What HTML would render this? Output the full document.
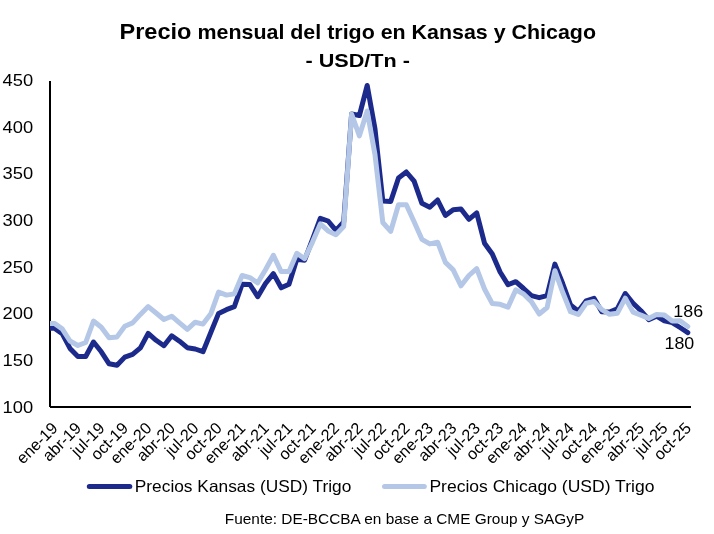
<!DOCTYPE html>
<html><head><meta charset="utf-8"><title>Precio mensual del trigo</title>
<style>
html,body{margin:0;padding:0;background:#fff;}
body{width:714px;height:534px;overflow:hidden;}
svg{display:block;will-change:transform;font-family:"Liberation Sans",Arial,sans-serif;}
</style></head><body>
<svg width="714" height="534" viewBox="0 0 714 534">
<defs><clipPath id="pc"><rect x="50" y="0" width="664" height="534"/></clipPath></defs>
<rect width="714" height="534" fill="#fff"/>
<text x="119.5" y="39" font-weight="bold" font-size="21.4" fill="#000" textLength="72" lengthAdjust="spacingAndGlyphs">Precio</text>
<text x="197.5" y="39" font-weight="bold" font-size="19.9" fill="#000" textLength="398.5" lengthAdjust="spacingAndGlyphs">mensual del trigo en Kansas y Chicago</text>
<text x="305.5" y="67" font-weight="bold" font-size="19" fill="#000" textLength="104.5" lengthAdjust="spacingAndGlyphs">- USD/Tn -</text>
<g font-size="16.8" fill="#000">
<text x="33.2" y="412.8" text-anchor="end" textLength="30.6" lengthAdjust="spacingAndGlyphs">100</text>
<text x="33.2" y="366.1" text-anchor="end" textLength="30.6" lengthAdjust="spacingAndGlyphs">150</text>
<text x="33.2" y="319.4" text-anchor="end" textLength="30.6" lengthAdjust="spacingAndGlyphs">200</text>
<text x="33.2" y="272.7" text-anchor="end" textLength="30.6" lengthAdjust="spacingAndGlyphs">250</text>
<text x="33.2" y="226.0" text-anchor="end" textLength="30.6" lengthAdjust="spacingAndGlyphs">300</text>
<text x="33.2" y="179.3" text-anchor="end" textLength="30.6" lengthAdjust="spacingAndGlyphs">350</text>
<text x="33.2" y="132.6" text-anchor="end" textLength="30.6" lengthAdjust="spacingAndGlyphs">400</text>
<text x="33.2" y="85.9" text-anchor="end" textLength="30.6" lengthAdjust="spacingAndGlyphs">450</text>
</g>
<g font-size="16.2" fill="#000">
<text transform="translate(58.7,429.2) rotate(-45)" text-anchor="end">ene-19</text>
<text transform="translate(82.2,429.2) rotate(-45)" text-anchor="end">abr-19</text>
<text transform="translate(105.6,429.2) rotate(-45)" text-anchor="end">jul-19</text>
<text transform="translate(129.1,429.2) rotate(-45)" text-anchor="end">oct-19</text>
<text transform="translate(152.5,429.2) rotate(-45)" text-anchor="end">ene-20</text>
<text transform="translate(176.0,429.2) rotate(-45)" text-anchor="end">abr-20</text>
<text transform="translate(199.5,429.2) rotate(-45)" text-anchor="end">jul-20</text>
<text transform="translate(222.9,429.2) rotate(-45)" text-anchor="end">oct-20</text>
<text transform="translate(246.4,429.2) rotate(-45)" text-anchor="end">ene-21</text>
<text transform="translate(269.8,429.2) rotate(-45)" text-anchor="end">abr-21</text>
<text transform="translate(293.3,429.2) rotate(-45)" text-anchor="end">jul-21</text>
<text transform="translate(316.8,429.2) rotate(-45)" text-anchor="end">oct-21</text>
<text transform="translate(340.2,429.2) rotate(-45)" text-anchor="end">ene-22</text>
<text transform="translate(363.7,429.2) rotate(-45)" text-anchor="end">abr-22</text>
<text transform="translate(387.1,429.2) rotate(-45)" text-anchor="end">jul-22</text>
<text transform="translate(410.6,429.2) rotate(-45)" text-anchor="end">oct-22</text>
<text transform="translate(434.1,429.2) rotate(-45)" text-anchor="end">ene-23</text>
<text transform="translate(457.5,429.2) rotate(-45)" text-anchor="end">abr-23</text>
<text transform="translate(481.0,429.2) rotate(-45)" text-anchor="end">jul-23</text>
<text transform="translate(504.4,429.2) rotate(-45)" text-anchor="end">oct-23</text>
<text transform="translate(527.9,429.2) rotate(-45)" text-anchor="end">ene-24</text>
<text transform="translate(551.4,429.2) rotate(-45)" text-anchor="end">abr-24</text>
<text transform="translate(574.8,429.2) rotate(-45)" text-anchor="end">jul-24</text>
<text transform="translate(598.3,429.2) rotate(-45)" text-anchor="end">oct-24</text>
<text transform="translate(621.7,429.2) rotate(-45)" text-anchor="end">ene-25</text>
<text transform="translate(645.2,429.2) rotate(-45)" text-anchor="end">abr-25</text>
<text transform="translate(668.7,429.2) rotate(-45)" text-anchor="end">jul-25</text>
<text transform="translate(692.1,429.2) rotate(-45)" text-anchor="end">oct-25</text>
</g>
<rect x="49" y="81" width="2" height="326" fill="#000"/>
<rect x="50" y="406" width="641" height="2" fill="#000"/>
<polyline points="50.2,328.3 54.4,328.3 62.2,333.7 70.0,348.4 77.9,356.5 85.7,356.5 93.5,342.0 101.3,351.8 109.1,363.8 117.0,365.3 124.8,357.1 132.6,354.4 140.4,347.9 148.2,333.4 156.1,340.3 163.9,345.7 171.7,335.8 179.5,341.2 187.3,347.7 195.2,349.0 203.0,351.7 210.8,332.5 218.6,313.4 226.4,309.7 234.3,306.7 242.1,284.3 249.9,284.5 257.7,296.7 265.5,283.5 273.4,273.6 281.2,287.8 289.0,284.2 296.8,259.3 304.6,260.2 312.5,239.3 320.3,218.3 328.1,221.0 335.9,230.4 343.7,222.0 351.6,114.0 359.4,115.5 367.2,85.5 375.0,129.0 382.8,201.0 390.7,201.5 398.5,178.0 406.3,172.0 414.1,181.2 421.9,203.3 429.8,207.2 437.6,200.0 445.4,215.5 453.2,209.7 461.0,209.0 468.9,219.3 476.7,212.8 484.5,243.2 492.3,254.0 500.1,272.0 508.0,284.7 515.8,281.7 523.6,288.5 531.4,295.7 539.2,297.7 547.1,295.7 554.9,264.1 562.7,283.5 570.5,304.9 578.3,311.2 586.2,300.8 594.0,298.3 601.8,311.8 609.6,312.1 617.4,308.7 625.3,293.5 633.1,303.2 640.9,310.7 648.7,319.6 656.5,316.2 664.4,320.9 672.2,322.6 680.0,327.5 687.8,332.6" fill="none" stroke="#1C2A8C" stroke-width="5" stroke-linejoin="round" stroke-linecap="round" clip-path="url(#pc)"/>
<polyline points="50.2,323.4 54.4,323.4 62.2,328.9 70.0,341.0 77.9,345.5 85.7,342.5 93.5,321.0 101.3,327.2 109.1,337.7 117.0,336.9 124.8,326.2 132.6,322.9 140.4,314.4 148.2,306.6 156.1,313.0 163.9,319.5 171.7,316.2 179.5,322.8 187.3,329.4 195.2,322.2 203.0,324.1 210.8,313.8 218.6,292.0 226.4,295.1 234.3,293.9 242.1,275.5 249.9,277.7 257.7,282.8 265.5,269.7 273.4,255.3 281.2,271.6 289.0,271.5 296.8,253.3 304.6,258.7 312.5,242.1 320.3,223.9 328.1,230.9 335.9,234.7 343.7,226.5 351.6,114.0 359.4,135.8 367.2,111.0 375.0,154.7 382.8,222.5 390.7,231.3 398.5,204.8 406.3,204.8 414.1,221.8 421.9,239.3 429.8,243.9 437.6,242.2 445.4,262.4 453.2,269.9 461.0,285.8 468.9,275.5 476.7,268.6 484.5,289.0 492.3,303.6 500.1,304.3 508.0,307.1 515.8,289.9 523.6,294.0 531.4,301.6 539.2,314.0 547.1,307.5 554.9,270.7 562.7,292.3 570.5,311.7 578.3,314.5 586.2,303.3 594.0,301.5 601.8,309.6 609.6,314.3 617.4,313.2 625.3,298.1 633.1,312.1 640.9,315.1 648.7,318.4 656.5,314.5 664.4,315.1 672.2,320.9 680.0,320.7 687.8,326.5" fill="none" stroke="#B4C7E7" stroke-width="5" stroke-linejoin="round" stroke-linecap="round" clip-path="url(#pc)"/>
<text x="703.1" y="316.7" text-anchor="end" font-size="16.5" fill="#000" textLength="29.8" lengthAdjust="spacingAndGlyphs">186</text>
<text x="694.3" y="348.6" text-anchor="end" font-size="16.5" fill="#000" textLength="29.8" lengthAdjust="spacingAndGlyphs">180</text>
<line x1="89.3" y1="486.5" x2="129.8" y2="486.5" stroke="#1C2A8C" stroke-width="5" stroke-linecap="round"/>
<text x="134.8" y="491.5" font-size="16.5" fill="#000" textLength="216.5" lengthAdjust="spacingAndGlyphs">Precios Kansas (USD) Trigo</text>
<line x1="384.5" y1="486.5" x2="424.3" y2="486.5" stroke="#B4C7E7" stroke-width="5" stroke-linecap="round"/>
<text x="429.4" y="491.5" font-size="16.5" fill="#000" textLength="225" lengthAdjust="spacingAndGlyphs">Precios Chicago (USD) Trigo</text>
<text x="224.8" y="524" font-size="14.8" fill="#000" textLength="359.5" lengthAdjust="spacingAndGlyphs">Fuente: DE-BCCBA en base a CME Group y SAGyP</text>
</svg>
</body></html>
